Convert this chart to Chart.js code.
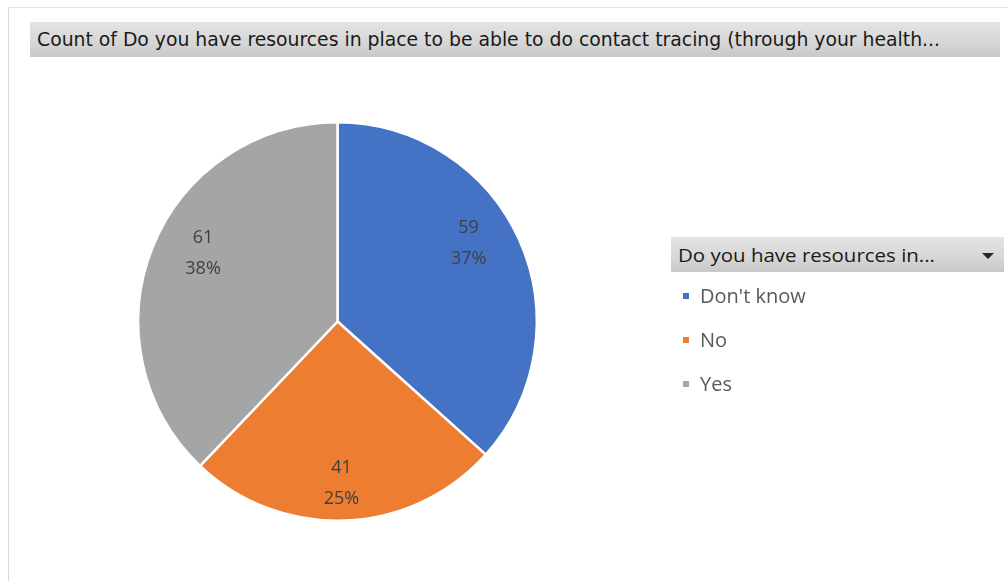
<!DOCTYPE html>
<html>
<head>
<meta charset="utf-8">
<script src="https://cdn.jsdelivr.net/npm/chart.js@4.4.1/dist/chart.umd.min.js"></script>
<style>
  html, body { margin: 0; padding: 0; background: #fff; width: 1008px; height: 581px; overflow: hidden; }
  #wrap { position: relative; width: 1008px; height: 581px; }
  #frame { position: absolute; left: 8px; top: 7px; width: 1010px; height: 590px; border-left: 1px solid #d9d9d9; border-top: 1px solid #e3e3e3; box-sizing: border-box; }
  canvas { position: absolute; left: 0; top: 0; }
  .bar { position: absolute; background: linear-gradient(to bottom, #e4e4e4 0%, #d6d6d6 60%, #c8c8c8 100%); color: #1a1a1a; white-space: nowrap; overflow: hidden; }
  #title { left: 30px; top: 22px; width: 970px; height: 35px; font-family: "Liberation Sans Narrow", "DejaVu Sans Condensed", "DejaVu Sans", sans-serif; font-size: 20px; line-height: 35px; }
  #title span { display: inline-block; margin-left: 7px; transform-origin: 0 50%; }
  #lhead { left: 671px; top: 237px; width: 333px; height: 35px; font-family: "Open Sans", "DejaVu Sans", sans-serif; font-size: 18.5px; line-height: 35px; }
  #lhead span { display: inline-block; margin-left: 7px; transform-origin: 0 50%; }
  #lhead .tri { position: absolute; right: 10px; top: 16px; width: 0; height: 0; border-left: 6px solid transparent; border-right: 6px solid transparent; border-top: 6px solid #262626; }
  #legend { position: absolute; left: 683px; top: 278px; font-family: "Open Sans", "DejaVu Sans", sans-serif; font-size: 20px; color: #595959; }
  #legend .item { height: 44px; line-height: 36px; position: relative; white-space: nowrap; }
  #legend .sw { display: inline-block; width: 6px; height: 6px; margin-right: 11px; vertical-align: middle; position: relative; top: -2px; }
</style>
</head>
<body>
<div id="wrap">
  <div id="frame"></div>
  <canvas id="c" width="1008" height="581"></canvas>
  <div class="bar" id="title"><span id="titleText"></span></div>
  <div class="bar" id="lhead"><span id="lheadText"></span><div class="tri"></div></div>
  <div id="legend"></div>
</div>
<script>
const titleText = "Count of Do you have resources in place to be able to do contact tracing (through your health...";
const legendTitle = "Do you have resources in...";
const categories = ["Don't know", "No", "Yes"];
const counts = [59, 41, 61];
const percentLabels = ["37%", "25%", "38%"];
const colors = ["#4472C4", "#ED7D31", "#A5A5A5"];

document.getElementById('titleText').textContent = titleText;
document.getElementById('lheadText').textContent = legendTitle;
function fitWidth(id, target) {
  const s = document.getElementById(id);
  const w = s.getBoundingClientRect().width;
  if (w > 0) s.style.transform = 'scaleX(' + (target / w) + ')';
}
fitWidth('titleText', 903);
fitWidth('lheadText', 257);

const legendEl = document.getElementById('legend');
categories.forEach((c, i) => {
  const d = document.createElement('div');
  d.className = 'item';
  const sw = document.createElement('span');
  sw.className = 'sw';
  sw.style.background = colors[i];
  d.appendChild(sw);
  d.appendChild(document.createTextNode(c));
  legendEl.appendChild(d);
});

// small per-slice nudges mimicking Excel's best-fit label placement
const labelNudge = [[-9, -16], [-2, 8], [8, -12]];

const sliceLabels = {
  id: 'sliceLabels',
  afterDatasetsDraw(chart) {
    const ctx = chart.ctx;
    const meta = chart.getDatasetMeta(0);
    ctx.save();
    ctx.font = '18px "Open Sans", "DejaVu Sans", sans-serif';
    ctx.fillStyle = '#404040';
    ctx.textAlign = 'center';
    ctx.textBaseline = 'middle';
    meta.data.forEach((arc, i) => {
      const mid = (arc.startAngle + arc.endAngle) / 2;
      const r = arc.outerRadius * 0.77;
      const x = arc.x + Math.cos(mid) * r + labelNudge[i][0];
      const y = arc.y + Math.sin(mid) * r + labelNudge[i][1];
      ctx.fillText(String(counts[i]), x, y - 15);
      ctx.fillText(percentLabels[i], x, y + 16);
    });
    ctx.restore();
  }
};

new Chart(document.getElementById('c'), {
  type: 'pie',
  data: {
    labels: categories,
    datasets: [{
      data: counts,
      backgroundColor: colors,
      borderColor: '#ffffff',
      borderWidth: 2.5
    }]
  },
  options: {
    responsive: false,
    animation: false,
    layout: { padding: { left: 137, right: 470, top: 121, bottom: 59 } },
    plugins: { legend: { display: false }, tooltip: { enabled: false }, title: { display: false } }
  },
  plugins: [sliceLabels]
});
</script>
</body>
</html>
